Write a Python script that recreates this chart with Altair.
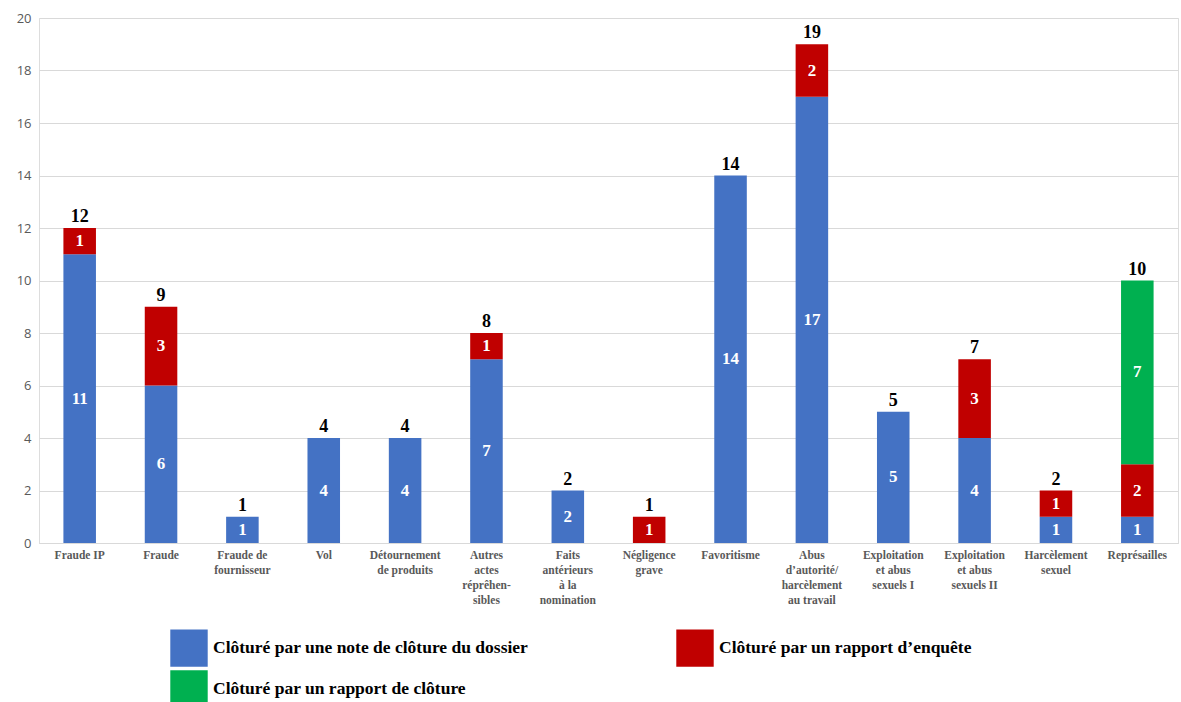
import altair as alt
import pandas as pd

categories = [
    "Fraude IP", "Fraude", "Fraude de|fournisseur", "Vol", "Détournement|de produits",
    "Autres|actes|réprêhen-|sibles", "Faits|antérieurs|à la|nomination", "Négligence|grave",
    "Favoritisme", "Abus|d’autorité/|harcèlement|au travail", "Exploitation|et abus|sexuels I",
    "Exploitation|et abus|sexuels II", "Harcèlement|sexuel", "Représailles",
]
series = [
    "Clôturé par une note de clôture du dossier",
    "Clôturé par un rapport d’enquête",
    "Clôturé par un rapport de clôture",
]
colors = ["#4472C4", "#C00000", "#00B050"]
note = [11, 6, 1, 4, 4, 7, 2, 0, 14, 17, 5, 4, 1, 1]
enquete = [1, 3, 0, 0, 0, 1, 0, 1, 0, 2, 0, 3, 1, 2]
rapport = [0, 0, 0, 0, 0, 0, 0, 0, 0, 0, 0, 0, 0, 7]

rows = []
for i, c in enumerate(categories):
    for k, vals in enumerate([note, enquete, rapport]):
        if vals[i] > 0:
            rows.append({"cat": c, "series": series[k], "ord": k, "value": vals[i]})
df = pd.DataFrame(rows)

# legend lays out entries column by column: blue, green | red
legend_domain = [series[0], series[2], series[1]]
legend_range = [colors[0], colors[2], colors[1]]

x = alt.X("cat:N", sort=categories, title=None,
          scale=alt.Scale(paddingInner=0.6, paddingOuter=0.3),
          axis=alt.Axis(labelAngle=0, labelExpr="split(datum.label, '|')",
                        labelFont="Liberation Serif", labelFontWeight="bold",
                        labelFontSize=11.5, labelColor="#595959", labelLineHeight=15,
                        labelPadding=6, ticks=False, domainColor="#d9d9d9",
                        labelLimit=200, labelBaseline="top"))

yaxis = alt.Axis(values=list(range(0, 21, 2)), grid=True, labelOverlap=False,
                 gridColor="#d9d9d9", domain=False, ticks=False,
                 labelFont="Open Sans", labelFontSize=13, labelColor="#595959",
                 labelPadding=8)
yscale = alt.Scale(domain=[0, 20])

base = alt.Chart(df)

bars = base.mark_bar().encode(
    x=x,
    y=alt.Y("sum(value):Q", stack="zero", title=None, scale=yscale, axis=yaxis),
    color=alt.Color("series:N",
                    scale=alt.Scale(domain=legend_domain, range=legend_range),
                    legend=alt.Legend(title=None, orient="none", legendX=131, legendY=611,
                                      columns=2, columnPadding=147, rowPadding=3,
                                      symbolType="square", symbolSize=1400,
                                      symbolStrokeWidth=0, symbolOpacity=1,
                                      labelFont="Liberation Serif", labelFontWeight="bold",
                                      labelFontSize=17.5, labelColor="#000000",
                                      labelLimit=600, labelOffset=5)),
    order=alt.Order("ord:Q", sort="ascending"),
)

seg = base.transform_stack(
    stack="value", groupby=["cat"], sort=[alt.SortField("ord", order="ascending")],
    as_=["y0", "y1"]
).transform_calculate(mid="(datum.y0 + datum.y1) / 2").mark_text(
    color="white", font="Liberation Serif", fontWeight="bold", fontSize=17, baseline="middle"
).encode(x=x, y=alt.Y("mid:Q", title=None, scale=yscale, axis=yaxis),
         text=alt.Text("value:Q"))

totals = base.transform_aggregate(total="sum(value)", groupby=["cat"]).mark_text(
    color="black", font="Liberation Serif", fontWeight="bold", fontSize=18,
    baseline="bottom", dy=-2
).encode(x=x, y=alt.Y("total:Q", title=None, scale=yscale, axis=yaxis),
         text=alt.Text("total:Q"))

chart = alt.layer(bars, seg, totals).properties(
    width=1139, height=525,
    autosize=alt.AutoSizeParams(type="none"),
    padding={"left": 39, "top": 18, "right": 3, "bottom": 159},
).configure_view(stroke=None).configure(background="white")

chart.save("out.html", embed_options={"renderer": "svg", "actions": False})
